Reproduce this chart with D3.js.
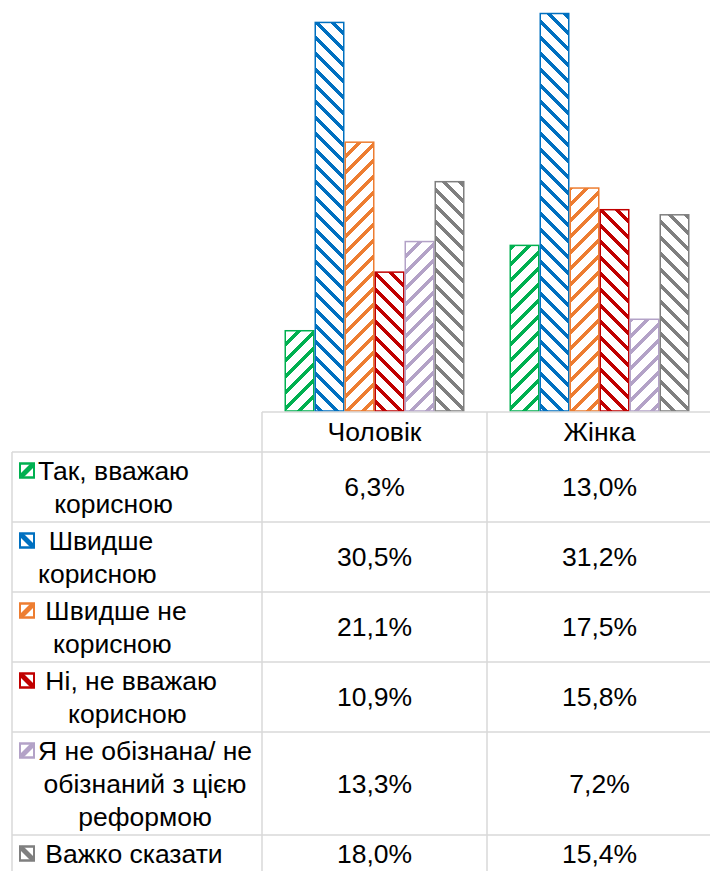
<!DOCTYPE html>
<html>
<head>
<meta charset="utf-8">
<script src="https://cdn.jsdelivr.net/npm/d3@7"></script>
<style>
  body { margin: 0; background: #fff; }
  text { font-family: "Liberation Sans", Arial, sans-serif; fill: #000; }
</style>
</head>
<body>
<div id="chart-area"></div>
<script>
// grouped hatched bar chart with a data table underneath

const categories = ["Чоловік", "Жінка"]
const seriesLabels = [
  ["Так, вважаю", "корисною"],
  [" Швидше", "корисною"],
  [" Швидше не", "корисною"],
  [" Ні, не вважаю", "корисною"],
  ["Я не обізнана/ не", "обізнаний з цією", "реформою"],
  [" Важко сказати"]
]
const maleValues = [6.3, 30.5, 21.1, 10.9, 13.3, 18.0]
const femaleValues = [13.0, 31.2, 17.5, 15.8, 7.2, 15.4]
const valueLabels = [
  ["6,3%", "30,5%", "21,1%", "10,9%", "13,3%", "18,0%"],
  ["13,0%", "31,2%", "17,5%", "15,8%", "7,2%", "15,4%"]
]

const COLORS = ["#00b050", "#0070c0", "#ed7d31", "#c00000", "#b3a2c7", "#7f7f7f"]
// "up" = "/" diagonal, "down" = "\" diagonal
const HATCH = ["up", "down", "up", "down", "up", "down"]

const W = 710, H = 871
const FONT = 26.5
const LINE = 33
const GRID = "#d9d9d9"

const TABLE_TOP = 412
const HEADER_H = 40
const COL_LEFT = 12
const COL_SPLIT = 262

const svg = d3.select("#chart-area").append("svg")
  .attr("width", W)
  .attr("height", H)

// hatch patterns
const defs = svg.append("defs")
COLORS.forEach((c, i) => {
  const p = defs.append("pattern")
    .attr("id", "hatch" + i)
    .attr("patternUnits", "userSpaceOnUse")
    .attr("width", 16)
    .attr("height", 16)
  p.append("rect").attr("width", 16).attr("height", 16).attr("fill", "#fff")
  const d = HATCH[i] === "up"
    ? "M-4,4 L4,-4 M0,16 L16,0 M12,20 L20,12"
    : "M-4,12 L4,20 M0,0 L16,16 M12,-4 L20,4"
  p.append("path").attr("d", d)
    .attr("stroke", c)
    .attr("stroke-width", 3.8)
    .attr("shape-rendering", "crispEdges")
})

// scales
const x0 = d3.scaleBand()
  .domain(categories)
  .range([COL_SPLIT, COL_SPLIT + 450])

const x1 = d3.scaleBand()
  .domain(d3.range(seriesLabels.length))
  .range([0, x0.bandwidth()])
  .paddingOuter(0.75)

const y = d3.scaleLinear()
  .domain([0, 32])
  .range([TABLE_TOP - 1, TABLE_TOP - 1 - 32 * 12.74])

const seriesData = [maleValues, femaleValues]

// bars
const groups = svg.selectAll("g.cat")
  .data(categories)
  .enter().append("g")
  .attr("class", "cat")
  .attr("transform", d => `translate(${x0(d)},0)`)

groups.selectAll("rect")
  .data((d, ci) => seriesData[ci].map((v, si) => ({ v, si })))
  .enter().append("rect")
  .attr("x", d => x1(d.si) + 0.75)
  .attr("width", x1.bandwidth() - 1.5)
  .attr("y", d => y(d.v))
  .attr("height", d => y(0) - y(d.v))
  .attr("fill", d => `url(#hatch${d.si})`)
  .attr("stroke", d => COLORS[d.si])
  .attr("stroke-width", 1.5)

// table rows
const rowHeights = seriesLabels.map(l => 4 + LINE * l.length)
const rowTops = []
let acc = TABLE_TOP + HEADER_H
rowHeights.forEach(h => { rowTops.push(acc); acc += h })

const grid = svg.append("g")
  .attr("stroke", GRID)
  .attr("stroke-width", 1.5)
  .attr("fill", "none")

grid.append("line")
  .attr("x1", COL_SPLIT).attr("x2", W)
  .attr("y1", TABLE_TOP).attr("y2", TABLE_TOP)

rowTops.forEach(t => {
  grid.append("line")
    .attr("x1", COL_LEFT).attr("x2", W)
    .attr("y1", t).attr("y2", t)
})

grid.append("line")
  .attr("x1", COL_LEFT).attr("x2", COL_LEFT)
  .attr("y1", TABLE_TOP + HEADER_H).attr("y2", H + 10)

categories.forEach(c => {
  grid.append("line")
    .attr("x1", x0(c)).attr("x2", x0(c))
    .attr("y1", TABLE_TOP).attr("y2", H + 10)
})

// header
svg.selectAll("text.head")
  .data(categories)
  .enter().append("text")
  .attr("class", "head")
  .attr("x", d => x0(d) + x0.bandwidth() / 2)
  .attr("y", TABLE_TOP + HEADER_H / 2)
  .attr("text-anchor", "middle")
  .attr("dominant-baseline", "central")
  .attr("font-size", FONT)
  .text(d => d)

// legend keys + labels
seriesLabels.forEach((lines, si) => {
  const cy = rowTops[si] + rowHeights[si] / 2
  const firstY = cy - (lines.length - 1) / 2 * LINE
  const kx = 20, ky = firstY - 7, ks = 14

  const key = svg.append("g")
  key.append("rect")
    .attr("x", kx).attr("y", ky)
    .attr("width", ks).attr("height", ks)
    .attr("fill", "#fff")
    .attr("stroke", COLORS[si])
    .attr("stroke-width", 2)
  key.append("line")
    .attr("x1", kx + 1).attr("x2", kx + ks - 1)
    .attr("y1", HATCH[si] === "up" ? ky + ks - 1 : ky + 1)
    .attr("y2", HATCH[si] === "up" ? ky + 1 : ky + ks - 1)
    .attr("stroke", COLORS[si])
    .attr("stroke-width", 5)
  key.append("rect")
    .attr("x", kx).attr("y", ky)
    .attr("width", ks).attr("height", ks)
    .attr("fill", "none")
    .attr("stroke", COLORS[si])
    .attr("stroke-width", 2)

  const lg = svg.append("g")
  const texts = lg.selectAll("text")
    .data(lines)
    .enter().append("text")
    .attr("y", (d, i) => firstY + i * LINE)
    .attr("dominant-baseline", "central")
    .attr("font-size", FONT)
    .style("white-space", "pre")
    .text(d => d)

  const widths = []
  texts.each(function () { widths.push(this.getComputedTextLength()) })
  const blockW = d3.max(widths)
  texts.attr("x", 38 + blockW / 2).attr("text-anchor", "middle")

  categories.forEach((c, ci) => {
    svg.append("text")
      .attr("x", x0(c) + x0.bandwidth() / 2)
      .attr("y", cy)
      .attr("text-anchor", "middle")
      .attr("dominant-baseline", "central")
      .attr("font-size", FONT)
      .text(valueLabels[ci][si])
  })
})
</script>
</body>
</html>
